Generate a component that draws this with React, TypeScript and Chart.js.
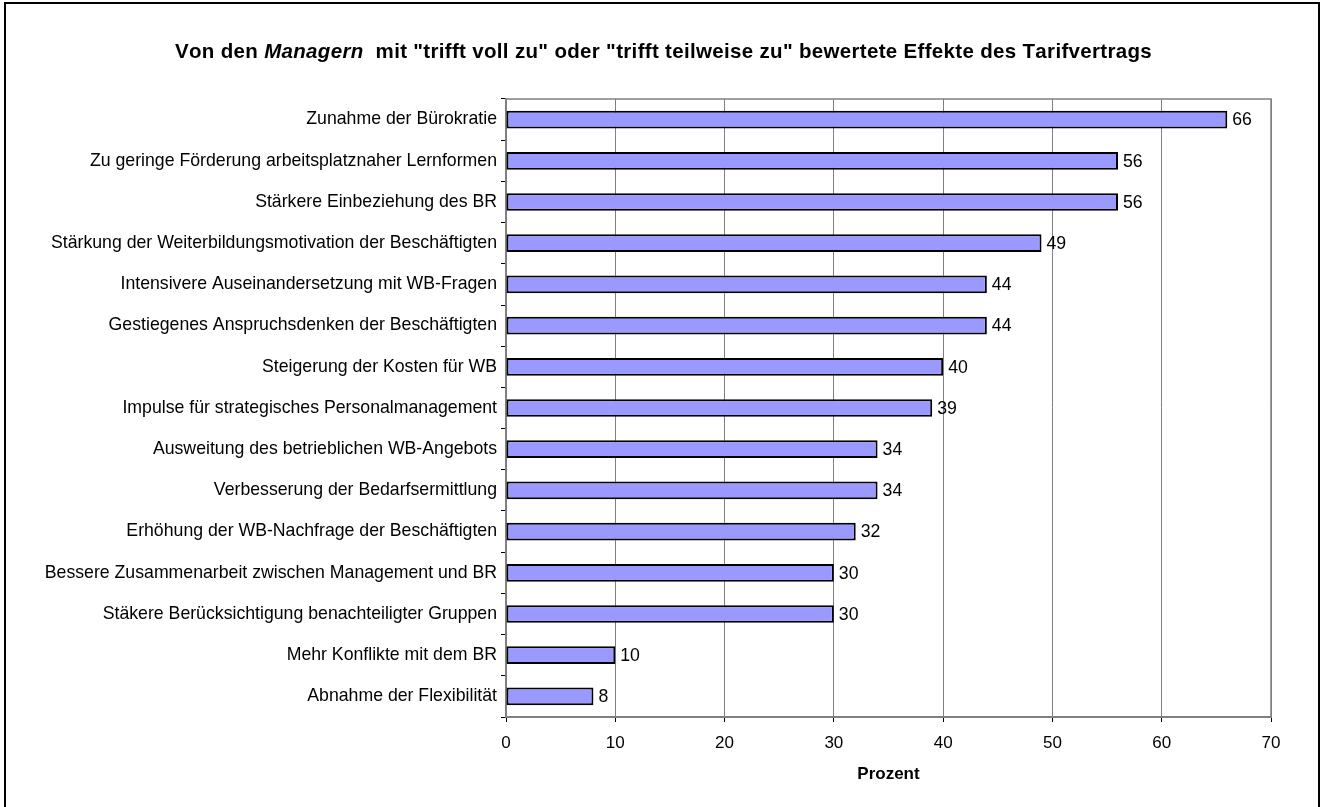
import React, { useEffect, useRef } from "react";
import { Chart, registerables } from "chart.js";

Chart.register(...registerables);

const categories: string[] = [
  "Zunahme der Bürokratie",
  "Zu geringe Förderung arbeitsplatznaher Lernformen",
  "Stärkere Einbeziehung des BR",
  "Stärkung der Weiterbildungsmotivation der Beschäftigten",
  "Intensivere Auseinandersetzung mit WB-Fragen",
  "Gestiegenes Anspruchsdenken der Beschäftigten",
  "Steigerung der Kosten für WB",
  "Impulse für strategisches Personalmanagement",
  "Ausweitung des betrieblichen WB-Angebots",
  "Verbesserung der Bedarfsermittlung",
  "Erhöhung der WB-Nachfrage der Beschäftigten",
  "Bessere Zusammenarbeit zwischen Management und BR",
  "Stäkere Berücksichtigung benachteiligter Gruppen",
  "Mehr Konflikte mit dem BR",
  "Abnahme der Flexibilität",
];

const values: number[] = [66, 56, 56, 49, 44, 44, 40, 39, 34, 34, 32, 30, 30, 10, 8];

const titleParts: { text: string; italic: boolean }[] = [
  { text: "Von den ", italic: false },
  { text: "Managern", italic: true },
  { text: "  mit \"trifft voll zu\" oder \"trifft teilweise zu\" bewertete Effekte des Tarifvertrags", italic: false },
];

const xAxisTitle = "Prozent";
const xMin = 0;
const xMax = 70;
const xStep = 10;

const FONT = "'Liberation Sans', Arial, Helvetica, sans-serif";
const GRID = "#808080";
const LABEL_SIZE = 17.7;

const titlePlugin = {
  id: "mixedTitle",
  afterDraw(chart: any) {
    const ctx = chart.ctx as CanvasRenderingContext2D;
    ctx.save();
    ctx.fillStyle = "#000";
    ctx.textBaseline = "alphabetic";
    ctx.textAlign = "left";
    const size = 20.5;
    const targetWidth = 974;
    const fonts = titleParts.map((p) => `${p.italic ? "italic " : ""}bold ${size}px ${FONT}`);
    let total = 0;
    let chars = 0;
    titleParts.forEach((p, i) => {
      ctx.font = fonts[i];
      total += ctx.measureText(p.text).width;
      chars += p.text.length;
    });
    const spacing = Math.max(0, (targetWidth - total) / chars);
    let x = 662 - targetWidth / 2;
    const y = 57.5;
    titleParts.forEach((p, i) => {
      ctx.font = fonts[i];
      for (const ch of p.text) {
        ctx.fillText(ch, x, y);
        x += ctx.measureText(ch).width + spacing;
      }
    });
    ctx.restore();
  },
};

const frameAndLabelsPlugin = {
  id: "frameLabels",
  beforeDatasetsDraw(chart: any) {
    const { ctx, chartArea } = chart;
    ctx.save();
    ctx.strokeStyle = GRID;
    ctx.lineWidth = 1.5;
    ctx.beginPath();
    ctx.moveTo(chartArea.left, chartArea.top);
    ctx.lineTo(chartArea.right, chartArea.top);
    ctx.lineTo(chartArea.right, chartArea.bottom);
    ctx.stroke();
    ctx.restore();
  },
  afterDatasetsDraw(chart: any) {
    const { ctx } = chart;
    const meta = chart.getDatasetMeta(0);
    ctx.save();
    ctx.fillStyle = "#000";
    ctx.font = `${LABEL_SIZE}px ${FONT}`;
    ctx.textAlign = "left";
    ctx.textBaseline = "middle";
    meta.data.forEach((el: any, i: number) => {
      ctx.fillText(String(values[i]), el.x + 5, el.y + 1);
    });
    ctx.restore();
  },
};

export default function App() {
  const ref = useRef<HTMLCanvasElement | null>(null);

  useEffect(() => {
    if (!ref.current) return;
    const chart = new Chart(ref.current, {
      type: "bar",
      data: {
        labels: categories,
        datasets: [
          {
            data: values,
            backgroundColor: "#9999FF",
            borderColor: "#000000",
            borderWidth: 2,
            borderSkipped: false,
            barPercentage: 0.43,
            categoryPercentage: 1,
          },
        ],
      },
      options: {
        indexAxis: "y",
        responsive: false,
        animation: false,
        layout: { padding: { left: 0, top: 99, right: 51, bottom: 0 } },
        plugins: {
          legend: { display: false },
          tooltip: { enabled: false },
          title: { display: false },
        },
        scales: {
          y: {
            type: "category",
            afterFit(scale: any) {
              scale.width = 506;
            },
            grid: {
              offset: true,
              drawOnChartArea: false,
              drawTicks: true,
              tickLength: 5,
              tickColor: "#000",
              tickWidth: 1,
            },
            border: { display: true, color: GRID, width: 1.5 },
            ticks: {
              color: "#000",
              font: { size: LABEL_SIZE, family: FONT },
              padding: 4,
              autoSkip: false,
            },
          },
          x: {
            type: "linear",
            min: xMin,
            max: xMax,
            afterFit(scale: any) {
              scale.height = 90;
            },
            ticks: {
              stepSize: xStep,
              color: "#000",
              font: { size: 17, family: FONT },
              padding: 11,
            },
            grid: {
              color: GRID,
              lineWidth: 1,
              tickLength: 5,
              tickColor: "#000",
            },
            border: { display: true, color: GRID, width: 2 },
            title: {
              display: true,
              text: xAxisTitle,
              color: "#000",
              font: { size: 17, weight: "bold", family: FONT },
              padding: { top: 0, bottom: 22 },
            },
          },
        },
      },
      plugins: [titlePlugin, frameAndLabelsPlugin],
    } as any);
    return () => chart.destroy();
  }, []);

  return (
    <div
      style={{
        position: "fixed",
        left: 0,
        top: 0,
        width: 1322,
        height: 807,
        background: "#fff",
        overflow: "hidden",
      }}
    >
      <canvas ref={ref} width={1322} height={807} style={{ display: "block" }} />
      <div
        style={{
          position: "absolute",
          left: 4,
          top: 2,
          width: 1316,
          height: 830,
          border: "2px solid #000",
          boxSizing: "border-box",
          pointerEvents: "none",
        }}
      />
    </div>
  );
}
